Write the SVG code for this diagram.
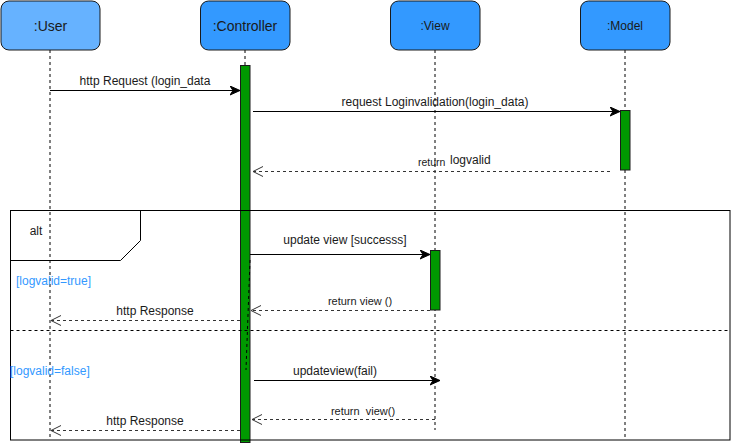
<svg xmlns="http://www.w3.org/2000/svg" width="732" height="444" viewBox="0 0 732 444">
<style>
.box{stroke:#1a1a1a;stroke-width:1}
.lbl{font-family:"Liberation Sans",Arial,sans-serif;fill:#1a1a1a;text-anchor:middle}
.life{stroke:#000;stroke-width:1;stroke-dasharray:3 3;fill:none}
.act{fill:#009900;stroke:#1a1a1a;stroke-width:1}
.msg{stroke:#000;stroke-width:1;fill:none;marker-end:url(#block)}
.ret{stroke:#333;stroke-width:1;stroke-dasharray:3 3;fill:none;marker-end:url(#open)}
.t{font-family:"Liberation Sans",Arial,sans-serif;font-size:12px;fill:#1a1a1a;text-anchor:middle}
.ts{font-family:"Liberation Sans",Arial,sans-serif;font-size:12px;fill:#1a1a1a;text-anchor:start}
.g{font-family:"Liberation Sans",Arial,sans-serif;font-size:12px;fill:#3399FF}
.frame{fill:none;stroke:#000;stroke-width:1}
</style>
<defs>
<marker id="block" markerWidth="12" markerHeight="10" refX="10" refY="5" orient="auto" markerUnits="userSpaceOnUse">
<path d="M0,0.5 L10,5 L0,9.5 L3,5 Z" fill="#000" stroke="#000" stroke-width="1"/>
</marker>
<marker id="open" markerWidth="12" markerHeight="12" refX="11" refY="6" orient="auto" markerUnits="userSpaceOnUse">
<path d="M1,1 L11,6 L1,11" fill="none" stroke="#333" stroke-width="1"/>
</marker>
</defs>

<g id="lifelines">
<line class="life" x1="50" y1="50" x2="50" y2="440"/>
<line class="life" x1="245" y1="50" x2="245" y2="65"/>
<line class="life" x1="435" y1="50" x2="435" y2="430"/>
<line class="life" x1="625" y1="50" x2="625" y2="440"/>
</g>

<g id="user">
<rect class="box" x="1" y="1" width="99" height="49" rx="8" fill="#66B2FF"/>
<text class="lbl" x="50.5" y="30.5" font-size="14">:User</text>
</g>
<g id="controller">
<rect class="box" x="200.5" y="1" width="89.5" height="49" rx="8" fill="#3399FF"/>
<text class="lbl" x="245" y="30.5" font-size="14">:Controller</text>
</g>
<g id="view">
<rect class="box" x="390.5" y="1" width="89.5" height="49" rx="8" fill="#3399FF"/>
<text class="lbl" x="435" y="30" font-size="12">:View</text>
</g>
<g id="model">
<rect class="box" x="580.5" y="1" width="89.5" height="49" rx="8" fill="#3399FF"/>
<text class="lbl" x="625" y="30" font-size="12">:Model</text>
</g>

<g id="activations">
<rect class="act" x="240.5" y="65.5" width="9.5" height="377"/>
<rect class="act" x="620.5" y="110.5" width="9.5" height="59.5"/>
<rect class="act" x="430.5" y="250.5" width="9.5" height="59.5"/>
<line class="life" x1="250" y1="260" x2="246" y2="370"/>
</g>

<g id="alt-frame">
<rect class="frame" x="10.5" y="210.5" width="719.5" height="229.5"/>
<path class="frame" d="M10.5,260.5 L120.5,260.5 L140.5,240.5 L140.5,210.5"/>
<text class="t" x="36" y="235">alt</text>
<line class="life" x1="10.5" y1="330.5" x2="730" y2="330.5"/>
<text class="g" x="16" y="285">[logvalid=true]</text>
<text class="g" x="10" y="375">[logvalid=false]</text>
</g>

<g id="connectors">
<line class="msg" x1="50" y1="90.5" x2="240" y2="90.5"/>
<text class="t" x="145" y="85">http Request (login_data</text>

<line class="msg" x1="253" y1="111.5" x2="620" y2="111.5"/>
<text class="t" x="435" y="106">request Loginvalidation(login_data)</text>

<line class="ret" x1="610" y1="171.5" x2="253" y2="171.5"/>
<text class="ts" x="418" y="166" style="font-size:10.5px">return</text>
<text class="ts" x="450" y="164">logvalid</text>

<line class="msg" x1="250" y1="254.5" x2="430" y2="254.5"/>
<text class="t" x="345" y="244">update view [successs]</text>

<line class="ret" x1="430" y1="310.5" x2="251" y2="310.5"/>
<text class="t" x="360" y="305" style="font-size:11px">return view ()</text>

<line class="ret" x1="240" y1="320.5" x2="51" y2="320.5"/>
<text class="t" x="155" y="315">http Response</text>

<line class="msg" x1="254" y1="380.5" x2="440" y2="380.5"/>
<text class="t" x="335" y="375">updateview(fail)</text>

<line class="ret" x1="435" y1="419.5" x2="252" y2="419.5"/>
<text class="t" x="363" y="415" xml:space="preserve" style="font-size:11px;white-space:pre">return  view()</text>

<line class="ret" x1="240" y1="430.5" x2="51" y2="430.5"/>
<text class="t" x="145" y="425">http Response</text>
</g>
</svg>
